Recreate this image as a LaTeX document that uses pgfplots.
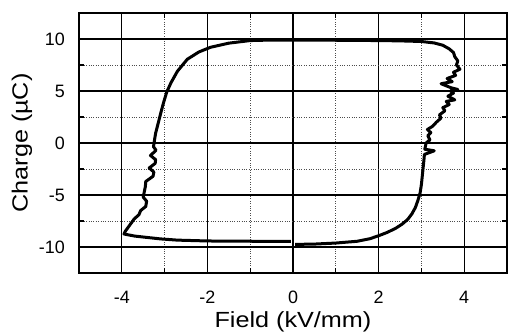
\documentclass[border=0pt]{standalone}
\usepackage{graphicx}
\usepackage{fontspec}
\setmainfont{Liberation Sans}
\usepackage{pgfplots}
\pgfplotsset{compat=1.18}
\begin{document}
\begin{tikzpicture}
\begin{axis}[
  scale only axis,
  width=428bp, height=260bp,
  xmin=-5, xmax=5, ymin=-12.5, ymax=12.5,
  xtick={-4,-2,0,2,4}, ytick={-10,-5,0,5,10},
  minor x tick num=1, minor y tick num=1,
  tick align=inside,
  major tick length=5bp, minor tick length=5bp,
  every tick/.style={black, line width=1.2bp},
  xmajorgrids, ymajorgrids, xminorgrids, yminorgrids,
  major grid style={black, line width=1.4bp},
  minor grid style={black!70, dotted, line width=0.9bp},
  axis line style={black, line width=2.2bp},
  /pgf/number format/assume math mode=true,
  ticklabel style={font=\fontsize{18}{20}\selectfont},
  xticklabel style={anchor=center, inner sep=0pt, yshift=-24bp},
  yticklabel style={anchor=east, inner sep=0pt, xshift=-14bp},
  every axis x label/.style={at={(axis description cs:0.5,0)}, anchor=center, yshift=-49bp},
  every axis y label/.style={at={(axis description cs:0,0.5)}, anchor=center, xshift=-57bp, rotate=90},
  xlabel={\fontsize{22}{24}\selectfont\scalebox{1.15}[1]{Field (kV/mm)}},
  ylabel={\fontsize{22}{24}\selectfont\scalebox{1.15}[1]{Charge (µC)}},
]
\addplot[black, line width=3bp, line join=round] coordinates {
(0.05,-9.75) (0.5,-9.72) (1.0,-9.62) (1.5,-9.45) (1.8,-9.2) (2.0,-8.92) (2.2,-8.6) (2.4,-8.2) (2.55,-7.8) (2.68,-7.35) (2.78,-6.8) (2.86,-6.2) (2.92,-5.5) (2.97,-4.8) (3.0,-4.0) (3.02,-3.2) (3.04,-2.4) (3.06,-1.6) (3.07,-1.1) (3.3,-0.75) (3.08,-0.6) (3.11,0.0) (3.2,0.3) (3.15,0.7) (3.22,1.0) (3.14,1.3) (3.26,1.6) (3.35,2.0) (3.46,2.4) (3.42,2.7) (3.55,3.1) (3.5,3.4) (3.65,3.7) (3.58,4.0) (3.78,4.15) (3.62,4.5) (3.75,4.8) (3.68,5.0) (3.85,5.15) (3.7,5.3) (3.46,5.7) (3.72,5.9) (3.6,6.2) (3.8,6.5) (3.75,6.8) (3.9,7.1) (3.82,7.5) (3.85,7.9) (3.78,8.3) (3.75,8.7) (3.65,9.05) (3.5,9.4) (3.3,9.62) (3.0,9.76) (2.5,9.82) (2.0,9.85) (1,9.88) (0,9.9) (-0.5,9.9) (-1.0,9.85) (-1.5,9.6) (-1.93,9.2) (-2.2,8.75) (-2.47,8.05) (-2.7,6.9) (-2.85,5.8) (-2.95,4.9) (-3.03,3.8) (-3.09,2.87) (-3.15,1.9) (-3.21,0.94) (-3.26,-0.35) (-3.2,-0.7) (-3.33,-1.2) (-3.21,-1.6) (-3.22,-1.96) (-3.36,-2.4) (-3.25,-2.8) (-3.27,-3.2) (-3.44,-3.7) (-3.45,-4.2) (-3.48,-4.8) (-3.5,-5.2) (-3.42,-5.6) (-3.44,-6.1) (-3.56,-6.5) (-3.6,-6.9) (-3.71,-7.3) (-3.78,-7.7) (-3.85,-8.1) (-3.92,-8.5) (-3.95,-8.75) (-3.7,-8.95) (-3.48,-9.05) (-3.1,-9.22) (-2.7,-9.34) (-2.0,-9.42) (-1.47,-9.44) (-0.8,-9.45) (-0.05,-9.45)
};
\end{axis}
\path ([shift={(-79bp,-63bp)}]current axis.south west) rectangle ([shift={(3bp,13bp)}]current axis.north east);
\end{tikzpicture}
\end{document}
